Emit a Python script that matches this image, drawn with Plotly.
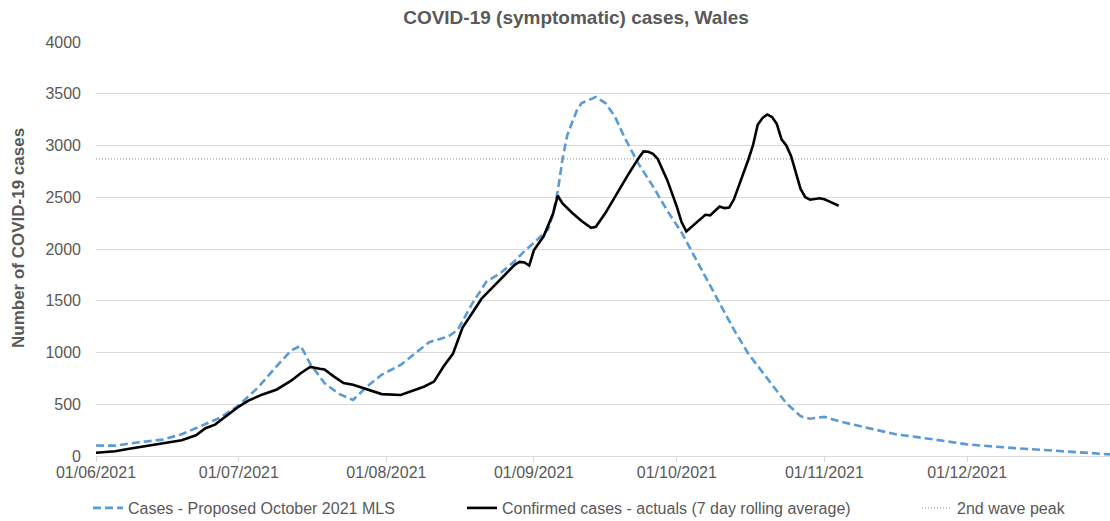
import plotly.graph_objects as go

# ---- data ----
proj_dates = [
    "2021-06-01", "2021-06-05", "2021-06-10", "2021-06-15", "2021-06-19", "2021-06-22",
    "2021-06-27", "2021-07-01", "2021-07-05", "2021-07-09", "2021-07-12", "2021-07-14",
    "2021-07-16", "2021-07-19", "2021-07-22", "2021-07-25", "2021-07-28", "2021-07-31",
    "2021-08-04", "2021-08-07", "2021-08-10", "2021-08-14", "2021-08-16", "2021-08-19",
    "2021-08-22", "2021-08-25", "2021-08-28", "2021-08-30", "2021-09-01", "2021-09-04",
    "2021-09-05", "2021-09-06", "2021-09-07", "2021-09-08", "2021-09-10", "2021-09-11",
    "2021-09-14", "2021-09-16", "2021-09-18", "2021-09-20", "2021-09-23", "2021-09-26",
    "2021-09-29", "2021-10-02", "2021-10-05", "2021-10-07", "2021-10-10", "2021-10-13",
    "2021-10-16", "2021-10-20", "2021-10-24", "2021-10-27", "2021-10-29", "2021-11-01",
    "2021-11-05", "2021-11-11", "2021-11-16", "2021-11-24", "2021-12-01", "2021-12-11",
    "2021-12-20", "2021-12-28", "2021-12-31",
]
proj_values = [
    101, 100, 133, 158, 210, 270,
    368, 490, 660, 870, 1020, 1065,
    890, 705, 600, 542, 675, 785,
    880, 990, 1100, 1155, 1220, 1470,
    1685, 1768, 1885, 1980, 2060, 2190,
    2340, 2560, 2870, 3100, 3340, 3410,
    3468, 3410, 3280, 3080, 2820, 2605,
    2370, 2160, 1900, 1740, 1470, 1220,
    990, 750, 510, 385, 360, 378,
    325, 262, 210, 160, 112, 76,
    48, 26, 16,
]

actual_dates = [
    "2021-06-01", "2021-06-05", "2021-06-08", "2021-06-12", "2021-06-15", "2021-06-19",
    "2021-06-22", "2021-06-24", "2021-06-26", "2021-06-29", "2021-07-01", "2021-07-03",
    "2021-07-06", "2021-07-09", "2021-07-12", "2021-07-14", "2021-07-16", "2021-07-18",
    "2021-07-19", "2021-07-21", "2021-07-23", "2021-07-25", "2021-07-27", "2021-07-31",
    "2021-08-04", "2021-08-06", "2021-08-09", "2021-08-11", "2021-08-13", "2021-08-15",
    "2021-08-17", "2021-08-19", "2021-08-21", "2021-08-23", "2021-08-26", "2021-08-28",
    "2021-08-29", "2021-08-30", "2021-08-31", "2021-09-01", "2021-09-03", "2021-09-05",
    "2021-09-06", "2021-09-07", "2021-09-09", "2021-09-11", "2021-09-13", "2021-09-14",
    "2021-09-16", "2021-09-18", "2021-09-19", "2021-09-20", "2021-09-21", "2021-09-23",
    "2021-09-24", "2021-09-25", "2021-09-26", "2021-09-27", "2021-09-29", "2021-10-01",
    "2021-10-02", "2021-10-03", "2021-10-05", "2021-10-07", "2021-10-08", "2021-10-10",
    "2021-10-11", "2021-10-12", "2021-10-13", "2021-10-14", "2021-10-15", "2021-10-16",
    "2021-10-17", "2021-10-18", "2021-10-19", "2021-10-20", "2021-10-21", "2021-10-22",
    "2021-10-23", "2021-10-24", "2021-10-25", "2021-10-26", "2021-10-27", "2021-10-28",
    "2021-10-29", "2021-10-31", "2021-11-01", "2021-11-02", "2021-11-04",
]
actual_values = [
    31, 46, 70, 100, 121, 152,
    200, 268, 303, 410, 478, 535,
    595, 643, 728, 800, 860, 843,
    836, 767, 705, 688, 657, 598,
    590, 622, 672, 719, 864, 990,
    1240, 1380, 1520, 1615, 1760, 1850,
    1875, 1870, 1840, 1990, 2120, 2340,
    2515, 2440, 2350, 2270, 2205, 2215,
    2347, 2500, 2575, 2665, 2735, 2880,
    2943, 2940, 2920, 2870, 2665, 2410,
    2260, 2170, 2250, 2331, 2325, 2411,
    2395, 2400, 2480, 2600, 2740, 2860,
    3000, 3200, 3265, 3300, 3275, 3210,
    3060, 3000, 2900, 2750, 2580, 2500,
    2476, 2490, 2480, 2460, 2418,
]

peak_dates = ["2021-06-01", "2021-12-31"]
peak_value = 2870

month_ticks = ["2021-06-01", "2021-07-01", "2021-08-01", "2021-09-01",
               "2021-10-01", "2021-11-01", "2021-12-01"]
month_labels = ["01/06/2021", "01/07/2021", "01/08/2021", "01/09/2021",
                "01/10/2021", "01/11/2021", "01/12/2021"]

title_text = "COVID-19 (symptomatic) cases, Wales"
y_title = "Number of COVID-19 cases"
name_proj = "Cases - Proposed October 2021 MLS"
name_actual = "Confirmed cases - actuals (7 day rolling average)"
name_peak = "2nd wave peak"

# ---- styling ----
FONT = "Liberation Sans, Arial, sans-serif"
GREY_TXT = "#595959"
GRID = "#d9d9d9"

W, H = 1110, 521
ML, MR, MT, MB = 96, 0, 42, 65
PW = W - ML - MR
PH = H - MT - MB


def px_x(px):
    return (px - ML) / PW


def px_y(py):
    return (H - MB - py) / PH


fig = go.Figure()

fig.add_trace(go.Scatter(
    x=peak_dates, y=[peak_value] * len(peak_dates), mode="lines", name=name_peak,
    line=dict(color="#a6a6a6", width=1.2, dash="1px,2px"),
    legend="legend3", hoverinfo="skip",
))
fig.add_trace(go.Scatter(
    x=proj_dates, y=proj_values, mode="lines", name=name_proj,
    line=dict(color="#5b9bd5", width=2.6, dash="8px,4px"),
    legend="legend",
))
fig.add_trace(go.Scatter(
    x=actual_dates, y=actual_values, mode="lines", name=name_actual,
    line=dict(color="#000000", width=2.6),
    legend="legend2",
))

legend_common = dict(
    orientation="h", yanchor="middle", y=px_y(508), xanchor="left",
    font=dict(family=FONT, size=16, color=GREY_TXT),
    bgcolor="rgba(0,0,0,0)", itemwidth=30, borderwidth=0,
)

fig.update_layout(
    width=W, height=H,
    margin=dict(l=ML, r=MR, t=MT, b=MB, autoexpand=False),
    paper_bgcolor="white", plot_bgcolor="white",
    font=dict(family=FONT, color=GREY_TXT, size=16),
    title=dict(
        text="<b>" + title_text + "</b>", x=576 / W, xanchor="center",
        y=1 - 17 / H, yanchor="middle",
        font=dict(family=FONT, size=19, color=GREY_TXT),
    ),
    xaxis=dict(
        type="date", range=["2021-06-01", "2021-12-31"],
        tickmode="array", tickvals=month_ticks, ticktext=month_labels,
        showgrid=False, showline=True, linecolor=GRID, linewidth=1,
        ticks="outside", ticklen=5, tickcolor=GRID,
        ticklabelstandoff=-3,
        tickfont=dict(family=FONT, size=16, color=GREY_TXT),
        zeroline=False, fixedrange=True,
    ),
    yaxis=dict(
        range=[0, 4000], dtick=500, tick0=0,
        showgrid=True, gridcolor=GRID, gridwidth=1,
        showline=False, zeroline=False, ticks="",
        ticklabelstandoff=14,
        tickfont=dict(family=FONT, size=16, color=GREY_TXT),
        fixedrange=True,
    ),
    annotations=[dict(
        text="<b>" + y_title + "</b>", textangle=-90,
        xref="paper", yref="paper", x=px_x(18), y=px_y(238),
        xanchor="center", yanchor="middle", showarrow=False,
        font=dict(family=FONT, size=17, color=GREY_TXT),
    )],
    legend=dict(x=px_x(88), **legend_common),
    legend2=dict(x=px_x(462), **legend_common),
    legend3=dict(x=px_x(917), **legend_common),
    showlegend=True,
)

fig.write_html(
    "out.html",
    config={"displayModeBar": False},
    post_script="document.body.style.margin='0';document.body.style.overflow='hidden';",
)
